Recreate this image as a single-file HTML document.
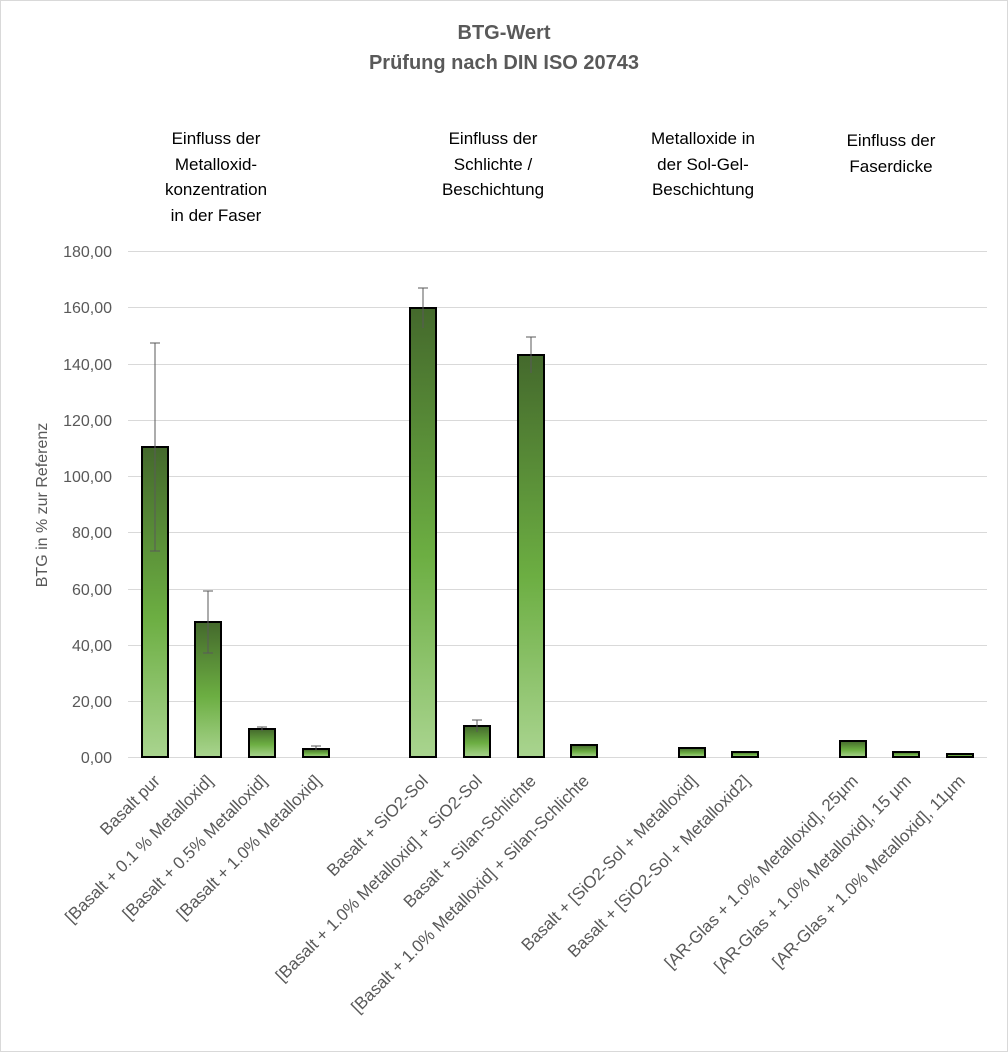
<!DOCTYPE html>
<html><head><meta charset="utf-8"><style>
body{margin:0;background:#fff}
svg{display:block;font-family:"Liberation Sans",sans-serif}
</style></head><body>
<svg width="1008" height="1052" viewBox="0 0 1008 1052">
<defs>
<linearGradient id="g" x1="0" y1="0" x2="0" y2="1">
<stop offset="0" stop-color="#44692c"/>
<stop offset="0.55" stop-color="#6cae42"/>
<stop offset="1" stop-color="#a9d48f"/>
</linearGradient>
</defs>
<rect x="0.5" y="0.5" width="1007" height="1051" fill="#fff" stroke="#d9d9d9"/>
<g fill="#595959" font-weight="bold" font-size="20" text-anchor="middle">
<text x="504" y="39">BTG-Wert</text>
<text x="504" y="69">Prüfung nach DIN ISO 20743</text>
</g>
<g fill="#000" font-size="17" text-anchor="middle">
<text x="216" y="144">Einfluss der</text><text x="216" y="170">Metalloxid-</text><text x="216" y="195">konzentration</text><text x="216" y="221">in der Faser</text>
<text x="493" y="144">Einfluss der</text><text x="493" y="170">Schlichte /</text><text x="493" y="195">Beschichtung</text>
<text x="703" y="144">Metalloxide in</text><text x="703" y="170">der Sol-Gel-</text><text x="703" y="195">Beschichtung</text>
<text x="891" y="146">Einfluss der</text><text x="891" y="172">Faserdicke</text>
</g>
<g stroke="#d9d9d9" stroke-width="1">
<line x1="128" x2="987" y1="251.5" y2="251.5"/><line x1="128" x2="987" y1="307.5" y2="307.5"/><line x1="128" x2="987" y1="364.5" y2="364.5"/><line x1="128" x2="987" y1="420.5" y2="420.5"/><line x1="128" x2="987" y1="476.5" y2="476.5"/><line x1="128" x2="987" y1="532.5" y2="532.5"/><line x1="128" x2="987" y1="589.5" y2="589.5"/><line x1="128" x2="987" y1="645.5" y2="645.5"/><line x1="128" x2="987" y1="701.5" y2="701.5"/><line x1="128" x2="987" y1="757.5" y2="757.5"/>
</g>
<g fill="#595959" font-size="16" text-anchor="end">
<text x="112" y="257">180,00</text><text x="112" y="313">160,00</text><text x="112" y="370">140,00</text><text x="112" y="426">120,00</text><text x="112" y="482">100,00</text><text x="112" y="538">80,00</text><text x="112" y="595">60,00</text><text x="112" y="651">40,00</text><text x="112" y="707">20,00</text><text x="112" y="763">0,00</text>
</g>
<text transform="translate(47,505) rotate(-90)" fill="#595959" font-size="16" text-anchor="middle">BTG in % zur Referenz</text>
<g fill="url(#g)" stroke="#000" stroke-width="2">
<rect x="142" y="447" width="26" height="310"/>
<rect x="195" y="622" width="26" height="135"/>
<rect x="249" y="729" width="26" height="28"/>
<rect x="303" y="749" width="26" height="8"/>
<rect x="410" y="308" width="26" height="449"/>
<rect x="464" y="726" width="26" height="31"/>
<rect x="518" y="355" width="26" height="402"/>
<rect x="571" y="745" width="26" height="12"/>
<rect x="679" y="748" width="26" height="9"/>
<rect x="732" y="752" width="26" height="5"/>
<rect x="840" y="741" width="26" height="16"/>
<rect x="893" y="752" width="26" height="5"/>
<rect x="947" y="754" width="26" height="3"/>
</g>
<g stroke="#595959" stroke-width="1" fill="none">
<path d="M155 343V551M150 343h10M150 551h10"/>
<path d="M208 591V653M203 591h10M203 653h10"/>
<path d="M262 727V731M257 727h10"/>
<path d="M316 746V750M311 746h10"/>
<path d="M423 288V328M418 288h10"/>
<path d="M477 720V732M472 720h10"/>
<path d="M531 337V373M526 337h10"/>
</g>
<g fill="#595959" font-size="17" text-anchor="end">
<text transform="translate(161,782) rotate(-45)">Basalt pur</text>
<text transform="translate(214,782) rotate(-45)">[Basalt + 0.1 % Metalloxid]</text>
<text transform="translate(268,782) rotate(-45)">[Basalt + 0.5% Metalloxid]</text>
<text transform="translate(322,782) rotate(-45)">[Basalt + 1.0% Metalloxid]</text>
<text transform="translate(429,782) rotate(-45)">Basalt + SiO2-Sol</text>
<text transform="translate(483,782) rotate(-45)">[Basalt + 1.0% Metalloxid] + SiO2-Sol</text>
<text transform="translate(537,782) rotate(-45)">Basalt + Silan-Schlichte</text>
<text transform="translate(590,782) rotate(-45)">[Basalt + 1.0% Metalloxid] + Silan-Schlichte</text>
<text transform="translate(698,782) rotate(-45)">Basalt + [SiO2-Sol + Metalloxid]</text>
<text transform="translate(751,782) rotate(-45)">Basalt + [SiO2-Sol + Metalloxid2]</text>
<text transform="translate(859,782) rotate(-45)">[AR-Glas + 1.0% Metalloxid], 25µm</text>
<text transform="translate(912,782) rotate(-45)">[AR-Glas + 1.0% Metalloxid], 15 µm</text>
<text transform="translate(966,782) rotate(-45)">[AR-Glas + 1.0% Metalloxid], 11µm</text>
</g>
</svg>
</body></html>
